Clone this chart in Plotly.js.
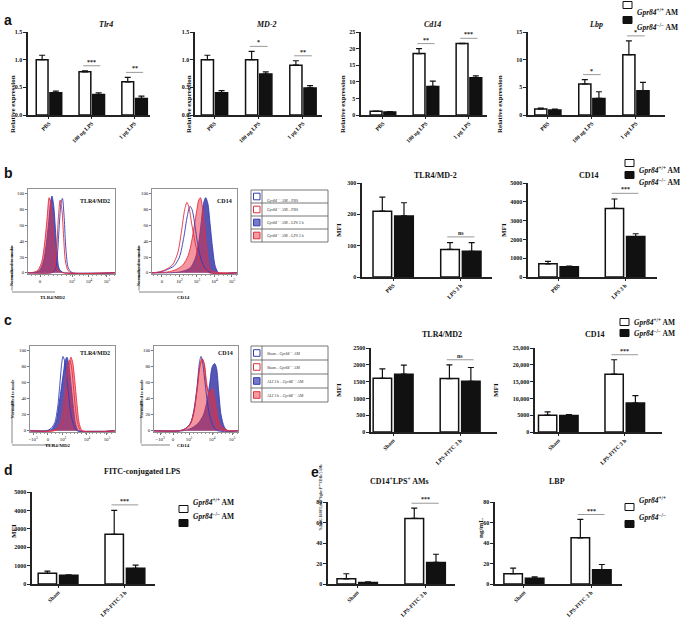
<!DOCTYPE html>
<html>
<head>
<meta charset="utf-8">
<script src="https://cdn.plot.ly/plotly-3.0.1.min.js"></script>
<style>body{margin:0;background:#fff}#plot{width:685px;height:620px}</style>
</head>
<body>
<div id="plot"></div>
<script>
// categories
const doseCats = ["PBS", "100 ng LPS", "1 μg LPS"];
const lpsCats = ["PBS", "LPS 3 h"];
const fitcCats = ["Sham", "LPS-FITC 3 h"];

// panel a, relative expression (WT = Gpr84+/+, KO = Gpr84-/-)
const tlr4WT = [1.0, 0.78, 0.6],  tlr4WTErr = [0.08, 0.02, 0.08];
const tlr4KO = [0.4, 0.37, 0.3],  tlr4KOErr = [0.03, 0.03, 0.04];
const tlr4Sig = ["", "***", "**"];
const md2WT = [1.0, 1.0, 0.9],    md2WTErr = [0.08, 0.15, 0.08];
const md2KO = [0.4, 0.74, 0.49],  md2KOErr = [0.04, 0.04, 0.04];
const md2Sig = ["", "*", "**"];
const cd14WT = [1.1, 18.5, 21.5], cd14WTErr = [0.1, 1.5, 0.1];
const cd14KO = [0.9, 8.6, 11.2],  cd14KOErr = [0.1, 1.6, 0.6];
const cd14Sig = ["", "**", "***"];
const lbpWT = [1.1, 5.6, 10.9],   lbpWTErr = [0.15, 0.8, 2.5];
const lbpKO = [0.9, 3.0, 4.4],    lbpKOErr = [0.15, 1.2, 1.5];
const lbpSig = ["", "*", "*"];

// panel b, MFI
const bTlrWT = [210, 88],   bTlrWTErr = [45, 22];
const bTlrKO = [195, 82],   bTlrKOErr = [42, 28];
const bTlrSig = ["", "ns"];
const bCd14WT = [700, 3650], bCd14WTErr = [130, 500];
const bCd14KO = [540, 2150], bCd14KOErr = [40, 150];
const bCd14Sig = ["", "***"];

// panel c, MFI
const cTlrWT = [1600, 1590], cTlrWTErr = [280, 410];
const cTlrKO = [1720, 1510], cTlrKOErr = [270, 410];
const cTlrSig = ["", "ns"];
const cCd14WT = [5000, 17200], cCd14WTErr = [1000, 4300];
const cCd14KO = [4900, 8600],  cCd14KOErr = [250, 2200];
const cCd14Sig = ["", "***"];

// panel d
const fitcWT = [580, 2700], fitcWTErr = [120, 1300];
const fitcKO = [480, 850],  fitcKOErr = [20, 180];
const fitcSig = ["", "***"];

// panel e
const dblWT = [5, 64],   dblWTErr = [5, 10];
const dblKO = [1.5, 21], dblKOErr = [0.5, 8];
const dblSig = ["", "***"];
const lbpSerWT = [10, 45],  lbpSerWTErr = [5.5, 18];
const lbpSerKO = [5.5, 14], lbpSerKOErr = [1.5, 5];
const lbpSerSig = ["", "***"];

// flow histograms [display position, % of mode]
const bTlrFillBlue = [[-0.7,0],[-0.2,1],[0,4],[0.2,15],[0.35,35],[0.5,65],[0.6,88],[0.68,97],[0.78,85],[0.88,55],[0.98,22],[1.08,6],[1.2,2],[1.4,0],[4.3,0]];
const bTlrFillRed = [[-0.7,0],[-0.3,1],[-0.1,4],[0.1,14],[0.25,35],[0.4,68],[0.52,95],[0.62,88],[0.72,62],[0.82,32],[0.92,12],[1.05,3],[1.3,0],[4.3,0]];
const bTlrOpenBlue = [[-0.7,0],[0.65,0],[0.8,2],[0.9,6],[1.0,25],[1.1,60],[1.2,88],[1.28,94],[1.38,70],[1.48,30],[1.62,6],[1.85,0],[4.3,0]];
const bTlrOpenRed = [[-0.7,0],[0.6,0],[0.75,2],[0.85,8],[0.95,30],[1.05,70],[1.15,92],[1.25,80],[1.35,45],[1.45,15],[1.6,3],[1.8,0],[4.3,0]];

const bCdFillBlue = [[-0.57,0],[1.0,1],[1.6,6],[1.9,18],[2.1,38],[2.25,65],[2.38,88],[2.5,95],[2.62,88],[2.75,62],[2.9,30],[3.05,8],[3.25,0],[4.3,0]];
const bCdFillRed = [[-0.57,0],[0.3,1],[0.8,4],[1.2,10],[1.5,22],[1.7,40],[1.85,60],[2.0,80],[2.1,92],[2.2,95],[2.3,85],[2.45,55],[2.6,22],[2.8,3],[4.3,0]];
const bCdOpenBlue = [[-0.57,0],[-0.1,1],[0.3,4],[0.7,9],[1.0,20],[1.25,45],[1.45,72],[1.6,84],[1.72,80],[1.85,65],[2.0,42],[2.2,20],[2.45,6],[2.8,0],[4.3,0]];
const bCdOpenRed = [[-0.57,0],[-0.2,1],[0.2,4],[0.6,10],[0.9,25],[1.1,50],[1.3,80],[1.43,89],[1.55,82],[1.7,62],[1.9,38],[2.1,18],[2.35,6],[2.7,0],[4.3,0]];

const cTlrFillBlue = [[-1.2,0],[0,0],[0.3,3],[0.55,12],[0.75,35],[0.9,55],[1.05,75],[1.15,88],[1.27,92],[1.4,80],[1.55,55],[1.7,28],[1.85,8],[2.05,0],[4.47,0]];
const cTlrFillRed = [[-1.2,0],[0.4,0],[0.7,3],[0.95,10],[1.1,25],[1.25,50],[1.4,80],[1.53,92],[1.65,85],[1.8,60],[1.95,30],[2.1,8],[2.3,0],[4.47,0]];
const cTlrOpenBlue = [[-1.2,0],[-0.1,0],[0.2,3],[0.45,10],[0.65,30],[0.8,60],[0.92,85],[1.0,93],[1.1,88],[1.2,75],[1.35,50],[1.5,25],[1.7,8],[1.95,0],[4.47,0]];
const cTlrOpenRed = [[-1.2,0],[0.3,0],[0.6,3],[0.85,12],[1.05,35],[1.2,65],[1.35,85],[1.45,88],[1.55,82],[1.7,55],[1.85,25],[2.0,8],[2.2,0],[4.47,0]];

const cCdFillBlue = [[-1.19,0],[0.6,0],[1.0,2],[1.3,5],[1.6,10],[1.9,20],[2.1,35],[2.3,60],[2.45,80],[2.6,84],[2.72,78],[2.85,50],[3.0,20],[3.2,5],[3.4,0],[4.06,0]];
const cCdFillRed = [[-1.19,0],[0.4,0],[0.8,3],[1.1,10],[1.3,25],[1.5,52],[1.68,82],[1.82,90],[1.95,84],[2.1,60],[2.25,45],[2.45,53],[2.65,35],[2.85,12],[3.1,4],[3.5,0],[4.06,0]];
const cCdOpenBlue = [[-1.19,0],[0.4,0],[0.8,3],[1.1,10],[1.3,25],[1.5,55],[1.65,85],[1.75,93],[1.85,85],[2.0,60],[2.15,35],[2.3,18],[2.5,6],[2.8,0],[4.06,0]];
const cCdOpenRed = [[-1.19,0],[0.4,0],[0.8,3],[1.1,9],[1.3,22],[1.5,50],[1.68,80],[1.82,90],[1.95,82],[2.1,55],[2.3,45],[2.45,42],[2.65,20],[2.9,2],[4.06,0]];

const histTicks = ["0", "10<sup>2</sup>", "10<sup>3</sup>", "10<sup>4</sup>", "10<sup>5</sup>"];
const bLegendLabels = ["<i>Gpr84</i><sup>+/+</sup> AM – PBS", "<i>Gpr84</i><sup>−/−</sup> AM – PBS",
  "<i>Gpr84</i><sup>+/+</sup> AM – LPS 3 h", "<i>Gpr84</i><sup>−/−</sup> AM – LPS 3 h"];
const cLegendLabels = ["Sham – <i>Gpr84</i><sup>+/+</sup> AM", "Sham – <i>Gpr84</i><sup>−/−</sup> AM",
  "ALI 3 h – <i>Gpr84</i><sup>+/+</sup> AM", "ALI 3 h – <i>Gpr84</i><sup>−/−</sup> AM"];

// ---- drawing ----
const W = 685, H = 620;
const px = v => v / W;
const py = v => 1 - v / H;
const serif = "Liberation Serif, Times New Roman, serif";
const sans = "Liberation Sans, Arial, sans-serif";
const BLUE = "rgb(50,60,180)", RED = "rgb(230,45,60)";

const data = [];
const shapes = [];
const annotations = [];
const layout = {
    width: W, height: H,
    margin: {l: 0, r: 0, t: 0, b: 0},
    paper_bgcolor: "#fff", plot_bgcolor: "rgba(0,0,0,0)",
    showlegend: false,
    barmode: "group", bargap: 0.36, bargroupgap: 0.14,
    font: {family: serif, color: "#111"},
    shapes: shapes, annotations: annotations,
};

function txt(text, x, y, size, opts) {
    annotations.push(Object.assign({
        xref: "paper", yref: "paper", x: px(x), y: py(y), text: text,
        showarrow: false, font: {family: serif, size: size, weight: "bold", color: "#111"},
    }, opts || {}));
}

function axes(n, box, xr, yr) {
    const xs = n === 1 ? "" : String(n);
    return {
        x: "xaxis" + xs, y: "yaxis" + xs, xid: "x" + xs, yid: "y" + xs,
        xdom: [px(box[0]), px(box[1])], ydom: [py(box[3]), py(box[2])], xr: xr, yr: yr,
    };
}

function barPanel(n, box, xr, ymax, cats, wt, wtErr, ko, koErr, sig, title, ytick) {
    const a = axes(n, box, xr, [0, ymax]);
    const zeros = wt.map(() => 0);
    data.push({
        type: "bar", x: cats, y: wt, xaxis: a.xid, yaxis: a.yid,
        marker: {color: "#fff", line: {color: "#111", width: 1.5}},
        error_y: {type: "data", array: wtErr, arrayminus: zeros, symmetric: false, color: "#111", thickness: 1.2, width: 3},
    });
    data.push({
        type: "bar", x: cats, y: ko, xaxis: a.xid, yaxis: a.yid,
        marker: {color: "#111", line: {color: "#111", width: 1.5}},
        error_y: {type: "data", array: koErr, arrayminus: zeros, symmetric: false, color: "#111", thickness: 1.2, width: 3},
    });
    layout[a.x] = {
        domain: a.xdom, range: a.xr, type: "category", anchor: a.yid,
        showline: true, linecolor: "#222", linewidth: 1.6, ticks: "outside", ticklen: 2.5, tickcolor: "#222",
        tickangle: -45, ticklabelstandoff: -1, tickfont: {family: serif, size: 5.6, weight: "bold"},
        showgrid: false, zeroline: false,
    };
    layout[a.y] = Object.assign({
        domain: a.ydom, range: a.yr, anchor: a.xid,
        showline: true, linecolor: "#222", linewidth: 1.6, ticks: "outside", ticklen: 3, tickcolor: "#222",
        tickfont: {family: serif, size: 6, weight: "bold"}, showgrid: false, zeroline: false,
    }, ytick);
    // significance bars
    sig.forEach((s, i) => {
        if (!s) return;
        const top = Math.max(wt[i] + wtErr[i], ko[i] + koErr[i]) + 0.06 * ymax;
        shapes.push({type: "line", xref: a.xid, yref: a.yid, x0: i - 0.2, x1: i + 0.2, y0: top, y1: top,
            line: {color: "#999", width: 1}});
        annotations.push({xref: a.xid, yref: a.yid, x: i, y: top, yanchor: "bottom", text: s, showarrow: false,
            yshift: -1, font: {family: serif, size: 6, weight: "bold", color: "#222"}});
    });
    txt(title, (box[0] + box[1]) / 2 + 8, box[2] - 14, 8);
}

function histPanel(n, box, xr, tickvals, ticktext, curves, label) {
    const a = axes(n, box, xr, [-1.5, 106]);
    curves.forEach(c => {
        data.push({
            type: "scatter", mode: "lines", x: c.pts.map(p => p[0]), y: c.pts.map(p => p[1]),
            xaxis: a.xid, yaxis: a.yid, line: {color: c.color, width: 0.9, shape: "spline", smoothing: 0.8},
            fill: c.fill ? "tozeroy" : "none", fillcolor: c.fill || undefined,
        });
    });
    layout[a.x] = {
        domain: a.xdom, range: a.xr, anchor: a.yid, showline: true, mirror: true, linecolor: "#777", linewidth: 0.8,
        ticks: "outside", ticklen: 2, tickcolor: "#777", tickvals: tickvals, ticktext: ticktext,
        tickfont: {family: serif, size: 4.8}, showgrid: false, zeroline: false,
        minor: {ticks: "outside", ticklen: 1.5, tickcolor: "#999", dtick: 0.25},
    };
    layout[a.y] = {
        domain: a.ydom, range: a.yr, anchor: a.xid, showline: true, mirror: true, linecolor: "#777", linewidth: 0.8,
        ticks: "outside", ticklen: 2, tickcolor: "#777", tickvals: [0, 20, 40, 60, 80, 100],
        tickfont: {family: serif, size: 4.8}, showgrid: false, zeroline: false,
    };
    txt(label, box[1] - 3, box[2] + 7, 6, {xanchor: "right"});
}

function histCurves(fillBlue, fillRed, openBlue, openRed) {
    return [
        {pts: fillBlue, color: BLUE, fill: "rgba(45,45,160,0.8)"},
        {pts: fillRed, color: RED, fill: "rgba(232,45,65,0.5)"},
        {pts: openBlue, color: BLUE},
        {pts: openRed, color: RED},
    ];
}

// detached axis arrows next to each histogram
function histGuide(x, yTop, yBot, xEnd, label, labelX) {
    annotations.push({xref: "paper", yref: "paper", x: px(x), y: py(yTop), ax: 0, ay: yBot - yTop, text: "",
        showarrow: true, arrowhead: 2, arrowsize: 0.7, arrowwidth: 0.8, arrowcolor: "#666"});
    shapes.push({type: "line", xref: "paper", yref: "paper", x0: px(x), x1: px(xEnd), y0: py(yBot), y1: py(yBot),
        line: {color: "#666", width: 0.8}});
    txt("Normalized to mode", x - 5, (yTop + yBot) / 2 - 2, 4.5, {textangle: -90});
    txt(label, labelX, yBot + 5, 5);
}

function histLegend(x0, x1, y0, rowH, labels) {
    const divX = x0 + 11;
    shapes.push({type: "rect", xref: "paper", yref: "paper", x0: px(x0), x1: px(x1), y0: py(y0), y1: py(y0 + 4 * rowH),
        line: {color: "#666", width: 0.9}});
    shapes.push({type: "line", xref: "paper", yref: "paper", x0: px(divX), x1: px(divX), y0: py(y0), y1: py(y0 + 4 * rowH),
        line: {color: "#666", width: 0.9}});
    const sw = [
        {line: BLUE, fill: "#fff"}, {line: RED, fill: "#fff"},
        {line: BLUE, fill: "rgba(60,65,175,0.7)"}, {line: RED, fill: "rgba(238,90,100,0.6)"},
    ];
    labels.forEach((lab, k) => {
        const cy = y0 + rowH * (k + 0.5);
        if (k > 0) shapes.push({type: "line", xref: "paper", yref: "paper", x0: px(x0), x1: px(x1),
            y0: py(y0 + rowH * k), y1: py(y0 + rowH * k), line: {color: "#666", width: 0.9}});
        shapes.push({type: "rect", xref: "paper", yref: "paper", x0: px(x0 + 2.5), x1: px(x0 + 9), y0: py(cy + 3.3), y1: py(cy - 3.3),
            line: {color: sw[k].line, width: 1}, fillcolor: sw[k].fill});
        txt(lab, divX + 3, cy, 3.8, {xanchor: "left", font: {family: serif, size: 3.8, color: "#333"}});
    });
}

function barLegend(x, ys, labels) {
    ys.forEach((y, k) => {
        shapes.push({type: "rect", xref: "paper", yref: "paper", x0: px(x), x1: px(x + 9), y0: py(y + 3.5), y1: py(y - 3.5),
            line: {color: "#111", width: 1}, fillcolor: k ? "#111" : "#fff"});
        txt(labels[k], x + 12, y, 7.5, {xanchor: "left"});
    });
}

const wtLab = "<i>Gpr84</i><sup>+/+</sup> AM", koLab = "<i>Gpr84</i><sup>−/−</sup> AM";

// panel a
const t1 = {tickformat: ".1f", dtick: 0.5};
barPanel(1, [28, 150, 32, 115], [-0.49, 2.36], 1.5, doseCats, tlr4WT, tlr4WTErr, tlr4KO, tlr4KOErr, tlr4Sig, "<i>Tlr4</i>", t1);
barPanel(2, [195, 322, 32, 115], [-0.44, 2.43], 1.5, doseCats, md2WT, md2WTErr, md2KO, md2KOErr, md2Sig, "<i>MD-2</i>", t1);
barPanel(3, [361, 487, 32, 115], [-0.51, 2.42], 25, doseCats, cd14WT, cd14WTErr, cd14KO, cd14KOErr, cd14Sig, "<i>Cd14</i>", {dtick: 5});
barPanel(4, [528, 665, 32, 115], [-0.45, 2.66], 15, doseCats, lbpWT, lbpWTErr, lbpKO, lbpKOErr, lbpSig, "<i>Lbp</i>", {dtick: 5});
[7, 183, 343, 506].forEach(x => txt("Relative expression", x, 73, 7, {textangle: -90}));
barLegend(623, [5, 20], [wtLab, koLab]);

// panel b
histPanel(5, [28, 115, 189, 274], [-0.69, 4.29], [0, 1.83, 2.8, 3.83], [histTicks[0]].concat(histTicks.slice(2)),
    histCurves(bTlrFillBlue, bTlrFillRed, bTlrOpenBlue, bTlrOpenRed), "TLR4/MD2");
histPanel(6, [152, 237, 189, 274], [-0.57, 4.29], [0, 1, 2, 3, 4], histTicks,
    histCurves(bCdFillBlue, bCdFillRed, bCdOpenBlue, bCdOpenRed), "CD14");
histGuide(12, 245, 292, 55, "TLR4/MD2", 38);
histGuide(139, 245, 292, 183, "CD14", 175);
histLegend(251, 328, 190, 13, bLegendLabels);
barPanel(7, [362, 492, 183, 277], [-0.46, 1.46], 300, lpsCats, bTlrWT, bTlrWTErr, bTlrKO, bTlrKOErr, bTlrSig, "TLR4/MD-2", {dtick: 100});
barPanel(8, [528, 657, 183, 277], [-0.46, 1.48], 5000, lpsCats, bCd14WT, bCd14WTErr, bCd14KO, bCd14KOErr, bCd14Sig, "CD14", {dtick: 1000});
txt("MFI", 339, 230, 7, {textangle: -90});
txt("MFI", 510, 230, 7, {textangle: -90});
barLegend(625, [163, 175], [wtLab, koLab]);

// panel c
histPanel(9, [30, 115, 346, 432], [-1.2, 4.47], [-1, 0, 1, 2.6, 3.93], ["−10<sup>3</sup>"].concat([histTicks[0]], histTicks.slice(2)),
    histCurves(cTlrFillBlue, cTlrFillRed, cTlrOpenBlue, cTlrOpenRed), "TLR4/MD2");
histPanel(10, [154, 238, 346, 432], [-1.19, 4.06], [-0.81, 0, 1, 2.44, 3.69], ["−10<sup>3</sup>"].concat([histTicks[0]], histTicks.slice(2)),
    histCurves(cCdFillBlue, cCdFillRed, cCdOpenBlue, cCdOpenRed), "CD14");
histGuide(12, 400, 445, 55, "TLR4/MD2", 43);
histGuide(141, 400, 445, 170, "CD14", 175);
histLegend(251, 328, 346, 14, cLegendLabels);
barPanel(11, [371, 497, 348, 432], [-0.33, 1.55], 2500, fitcCats, cTlrWT, cTlrWTErr, cTlrKO, cTlrKOErr, cTlrSig, "TLR4/MD2", {dtick: 500});
barPanel(12, [535, 662, 348, 432], [-0.35, 1.56], 25000, fitcCats, cCd14WT, cCd14WTErr, cCd14KO, cCd14KOErr, cCd14Sig, "CD14",
    {tickvals: [0, 5000, 10000, 15000, 20000, 25000], ticktext: ["0", "5000", "10,000", "15,000", "20,000", "25,000"]});
txt("MFI", 339, 390, 7, {textangle: -90});
txt("MFI", 502, 390, 7, {textangle: -90});
barLegend(620, [322, 333], [wtLab, koLab]);

// panel d
barPanel(13, [32, 155, 492, 584], [-0.39, 1.45], 5000, fitcCats, fitcWT, fitcWTErr, fitcKO, fitcKOErr, fitcSig, "FITC-conjugated LPS", {dtick: 1000});
txt("MFI", 8, 540, 7, {textangle: -90});
barLegend(179, [509, 523], [wtLab, koLab]);

// panel e
barPanel(14, [328, 455, 502, 584], [-0.43, 1.44], 80, fitcCats, dblWT, dblWTErr, dblKO, dblKOErr, dblSig, "CD14<sup>+</sup>LPS<sup>+</sup> AMs", {dtick: 20});
barPanel(15, [495, 622, 502, 584], [-0.43, 1.46], 80, fitcCats, lbpSerWT, lbpSerWTErr, lbpSerKO, lbpSerKOErr, lbpSerSig, "LBP", {dtick: 20});
txt("%(Ly6G<sup>−</sup>F4/80<sup>+</sup>Ly6C<sup>int</sup>Siglec-F<sup>high</sup>CD11c<sup>+</sup>) AMs", 320, 533, 3.2, {textangle: -90});
txt("ng/mL", 487, 540, 7, {textangle: -90});
barLegend(625, [507, 524], ["<i>Gpr84</i><sup>+/+</sup>", "<i>Gpr84</i><sup>−/−</sup>"]);

// panel letters
[["a", 2, 10], ["b", 2, 163], ["c", 2, 320], ["d", 2, 480], ["e", 309, 482]].forEach(l =>
    txt(l[0], l[1], l[2], 14, {xanchor: "left", font: {family: sans, size: 14, weight: "bold", color: "#111"}}));

Plotly.newPlot(document.getElementById("plot"), data, layout, {staticPlot: true});
</script>
</body>
</html>
